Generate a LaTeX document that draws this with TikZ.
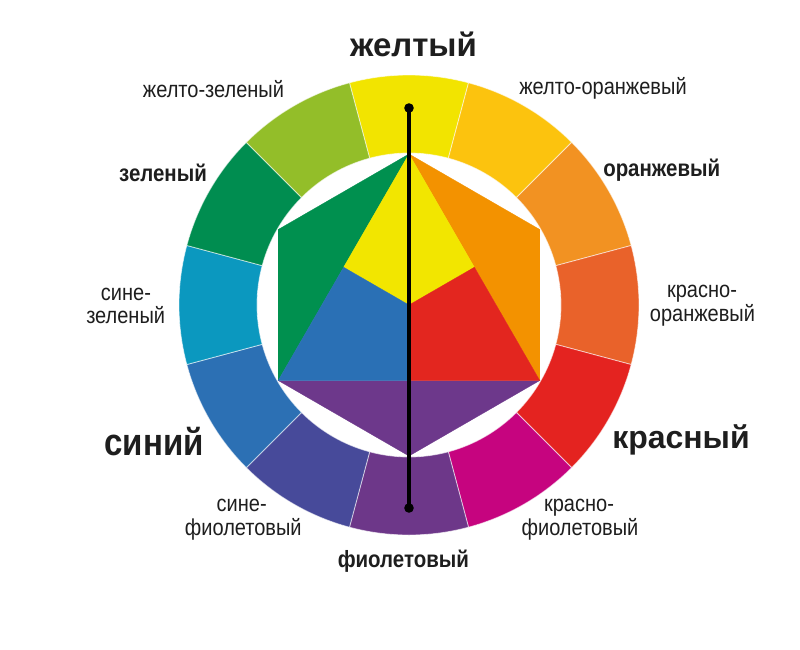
\documentclass[tikz,border=0pt]{standalone}
\usepackage{fontspec}
\usetikzlibrary{calc}
\newfontfamily\labfont{Liberation Sans}[FakeStretch=0.87]
\newfontfamily\labfontw{Liberation Sans}[FakeStretch=1.0]
\definecolor{cY}{HTML}{F2E400}
\definecolor{cYO}{HTML}{FCC30E}
\definecolor{cO}{HTML}{F29222}
\definecolor{cRO}{HTML}{E9622A}
\definecolor{cR}{HTML}{E42320}
\definecolor{cRV}{HTML}{C6047F}
\definecolor{cV}{HTML}{6D3789}
\definecolor{cBV}{HTML}{474A9A}
\definecolor{cB}{HTML}{2C70B4}
\definecolor{cBG}{HTML}{0B98BF}
\definecolor{cG}{HTML}{008D50}
\definecolor{cYG}{HTML}{93BE29}
\definecolor{hY}{HTML}{F2E600}
\definecolor{hO}{HTML}{F39200}
\definecolor{hG}{HTML}{00904F}
\definecolor{hB}{HTML}{2A70B5}
\definecolor{hR}{HTML}{E3261F}
\definecolor{hV}{HTML}{6D388B}
\definecolor{labgray}{HTML}{1E1E1E}
\begin{document}
\begin{tikzpicture}[x=1pt,y=1pt,
  seg/.style={draw=white, draw opacity=0.6, line width=0.8pt},
  piece/.style={fill=#1, draw=#1, line width=0.3pt},
  lab/.style={font=\labfont\fontsize{23}{28}\selectfont, text=labgray, anchor=base, inner sep=0pt},
  labb/.style={lab, font=\labfont\bfseries\fontsize{23.5}{28}\selectfont},
  labbig/.style={lab, font=\labfont\bfseries\fontsize{#1}{40}\selectfont},
  labwide/.style={lab, font=\labfontw\bfseries\fontsize{#1}{40}\selectfont},
  axisline/.style={line width=4.3pt, black},
  dotend/.style={fill=black}]
\useasboundingbox (-409,-344) rectangle (391,305);
\fill[white] (-409,-344) rectangle (391,305);
% outer ring
\foreach \a/\c in {90/cY, 60/cYO, 30/cO, 0/cRO, -30/cR, -60/cRV, -90/cV, -120/cBV, -150/cB, 180/cBG, 150/cG, 120/cYG} {
  \filldraw[seg, fill=\c] ({\a-15}:152) arc[start angle={\a-15}, end angle={\a+15}, radius=152]
    -- ({\a+15}:230) arc[start angle={\a+15}, end angle={\a-15}, radius=230] -- cycle;
}
% hexagon
\coordinate (T) at (90:151);
\coordinate (UL) at (150:151);
\coordinate (LL) at (210:151);
\coordinate (B) at (270:151);
\coordinate (LR) at (330:151);
\coordinate (UR) at (30:151);
\coordinate (O) at (0,0);
\coordinate (mL) at ($(T)!0.5!(LL)$);
\coordinate (mR) at ($(T)!0.5!(LR)$);
\coordinate (mB) at ($(LL)!0.5!(LR)$);
\fill[piece=hG] (T) -- (UL) -- (LL) -- cycle;
\fill[piece=hO] (T) -- (UR) -- (LR) -- cycle;
\fill[piece=hV] (LL) -- (B) -- (LR) -- cycle;
\fill[piece=hY] (T) -- (mR) -- (O) -- (mL) -- cycle;
\fill[piece=hR] (mR) -- (LR) -- (mB) -- (O) -- cycle;
\fill[piece=hB] (mL) -- (O) -- (mB) -- (LL) -- cycle;
% axis line
\coordinate (p1) at (0,197);
\coordinate (p2) at (0,-203);
\draw[axisline] (p1) -- (p2);
\fill[dotend] (p1) circle (4.8);
\fill[dotend] (p2) circle (4.8);
% labels
\node[labwide=33] (yel) at (4.5,249) {желтый};
\node[lab] (yg) at (-195.5,207.7) {желто-зеленый};
\node[lab] (yo) at (194,210.7) {желто-оранжевый};
\node[labb] (gr) at (-246,123.3) {зеленый};
\node[labb] (or) at (252.7,128.3) {оранжевый};
\node[lab] (bg1) at (-283,5) {сине-};
\node[lab] (bg2) at (-283.3,-18.3) {зеленый};
\node[lab] (ro1) at (293,7.7) {красно-};
\node[lab] (ro2) at (293.5,-16.7) {оранжевый};
\node[labbig=38] (bl) at (-255,-150) {синий};
\node[labwide=32] (rd) at (272,-143.3) {красный};
\node[lab] (bv1) at (-167.3,-206.7) {сине-};
\node[lab] (bv2) at (-165.7,-230) {фиолетовый};
\node[lab] (rv1) at (170,-206.7) {красно-};
\node[lab] (rv2) at (171,-230) {фиолетовый};
\node[labb] (vi) at (-5.7,-262.3) {фиолетовый};
\end{tikzpicture}
\end{document}
